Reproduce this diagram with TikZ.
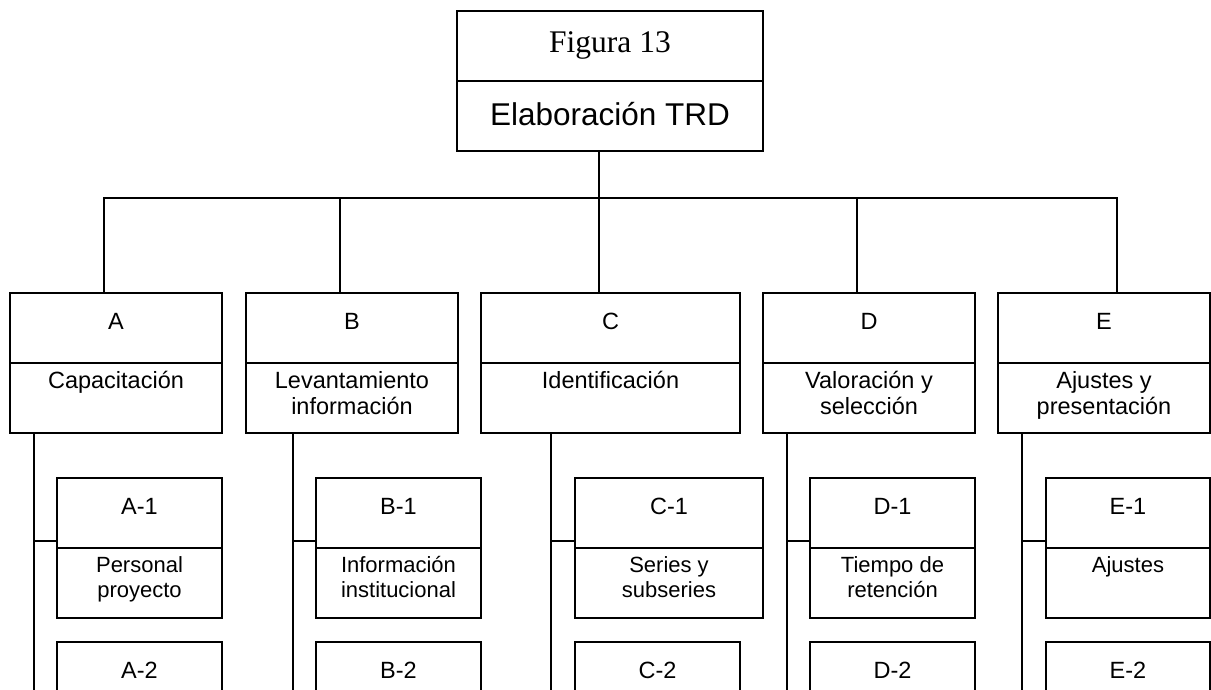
\documentclass[tikz,border=0pt]{standalone}
\usepackage{fontspec}
\setmainfont{Liberation Sans}
\newfontfamily\serifface{Liberation Serif}

\tikzset{
  frame/.style={draw, line width=1.6pt, inner sep=0pt, outer sep=0pt},
  rule/.style={line width=1.6pt},
  link/.style={line width=1.6pt},
  onehead/.style={anchor=base, inner sep=0pt, font=\fontsize{23.5}{26}\selectfont},
  onebody/.style={anchor=north, inner sep=0pt, align=center, font=\fontsize{23.5}{26}\selectfont},
  subhead/.style={anchor=base, inner sep=0pt, font=\fontsize{23.5}{26}\selectfont},
  subbody/.style={anchor=north, inner sep=0pt, align=center, font=\fontsize{22}{25}\selectfont},
}

% box with a header and a body: name, x1, y1, x2, y2, divider y, header, body, level
\newcommand\wbsbox[9]{%
  \node[frame, minimum width={(#4-#2)*1pt}, minimum height={(#5-#3)*1pt}] (#1) at ({(#2+#4)/2},{(#3+#5)/2}) {};
  \draw[rule] (#2,#6) -- (#4,#6);
  \node[#9head] (#1h) at ({(#2+#4)/2},{#3+36}) {#7};
  \node[#9body] (#1b) at ({(#2+#4)/2},{#6+8}) {#8};
}

\begin{document}
\begin{tikzpicture}[x=1pt, y=-1pt]
  \useasboundingbox (0,0) rectangle (1211,689);
  \clip (0,0) rectangle (1211,689);
  \fill[white] (0,0) rectangle (1211,689);

  % root
  \node[frame, minimum width=306pt, minimum height=140pt] (T) at (610,81) {};
  \draw[rule] (457,81) -- (763,81);
  \node[anchor=base, inner sep=0pt, font=\serifface\fontsize{31.5}{36}\selectfont] (Th) at (610,52) {Figura 13};
  \node[anchor=base, inner sep=0pt, font=\fontsize{31.5}{36}\selectfont] (Tb) at (610,125) {Elaboración TRD};

  % first level
  \wbsbox{A}{10}{293}{222}{433}{363}{A}{Capacitación}{one}
  \wbsbox{B}{246}{293}{458}{433}{363}{B}{Levantamiento\\información}{one}
  \wbsbox{C}{481}{293}{740}{433}{363}{C}{Identificación}{one}
  \wbsbox{D}{763}{293}{975}{433}{363}{D}{Valoración y\\selección}{one}
  \wbsbox{E}{998}{293}{1210}{433}{363}{E}{Ajustes y\\presentación}{one}

  % second level
  \wbsbox{A1}{57}{478}{222}{618}{548}{A-1}{Personal\\proyecto}{sub}
  \wbsbox{B1}{316}{478}{481}{618}{548}{B-1}{Información\\institucional}{sub}
  \wbsbox{C1}{575}{478}{763}{618}{548}{C-1}{Series y\\subseries}{sub}
  \wbsbox{D1}{810}{478}{975}{618}{548}{D-1}{Tiempo de\\retención}{sub}
  \wbsbox{E1}{1046}{478}{1210}{618}{548}{E-1}{Ajustes}{sub}

  \wbsbox{A2}{57}{642}{222}{782}{712}{A-2}{}{sub}
  \wbsbox{B2}{316}{642}{481}{782}{712}{B-2}{}{sub}
  \wbsbox{C2}{575}{642}{740}{782}{712}{C-2}{}{sub}
  \wbsbox{D2}{810}{642}{975}{782}{712}{D-2}{}{sub}
  \wbsbox{E2}{1046}{642}{1210}{782}{712}{E-2}{}{sub}

  % bus from the root to the first level
  \coordinate (busA) at (104,198);
  \coordinate (busB) at (340,198);
  \coordinate (busC) at (599,198);
  \coordinate (busD) at (857,198);
  \coordinate (busE) at (1117,198);
  \draw[link] (T.south -| busC) -- (busC);
  \draw[link, line cap=rect] (busA) -- (busE);
  \foreach \n in {A,B,C,D,E}
    \draw[link] (bus\n) -- (bus\n |- \n.north);

  % trunks down to the second level
  \coordinate (trunkA) at (34,700);
  \coordinate (trunkB) at (293,700);
  \coordinate (trunkC) at (551,700);
  \coordinate (trunkD) at (787,700);
  \coordinate (trunkE) at (1022,700);
  \foreach \n in {A,B,C,D,E}
    \draw[link] (\n.south -| trunk\n) -- (trunk\n);

  % branches into the first work package of each trunk
  \foreach \n in {A,B,C,D,E} {
    \coordinate (branch\n) at (trunk\n |- 0,541);
    \draw[link] (branch\n) -- (branch\n -| \n1.west);
  }
\end{tikzpicture}
\end{document}
